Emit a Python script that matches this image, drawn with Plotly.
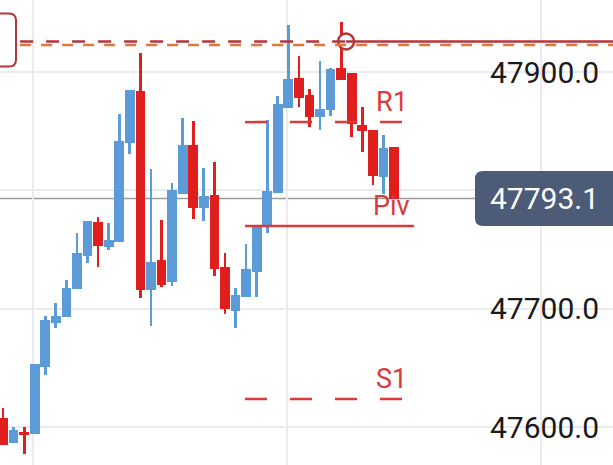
import plotly.graph_objects as go

# ---- data ----
opens = [47607.6, 47586.5, 47595.8, 47594.1, 47650.7, 47687.9, 47693.0, 47716.6, 47744.5, 47773.2,
         47752.1, 47756.3, 47840.0, 47883.9, 47715.8, 47741.1, 47722.5, 47796.9, 47838.3, 47785.1,
         47796.1, 47735.2, 47698.0, 47709.9, 47731.0, 47770.7, 47797.7, 47869.6, 47894.9, 47880.6,
         47862.0, 47867.9, 47903.4, 47899.2, 47855.2, 47851.0, 47811.3, 47836.6]
highs = [47616.0, 47600.0, 47600.0, 47653.2, 47693.8, 47704.8, 47724.2, 47763.9, 47774.1, 47777.5,
         47772.4, 47864.5, 47884.8, 47916.1, 47818.0, 47774.9, 47806.2, 47861.1, 47858.6, 47818.9,
         47823.9, 47747.0, 47717.5, 47754.6, 47769.0, 47859.4, 47879.7, 47939.7, 47913.5, 47885.6,
         47909.3, 47903.4, 47942.3, 47899.2, 47870.4, 47851.0, 47846.8, 47836.6]
lows = [47584.8, 47586.5, 47577.2, 47594.1, 47643.9, 47683.7, 47693.0, 47716.6, 47738.6, 47735.2,
        47749.6, 47756.3, 47830.7, 47709.0, 47685.3, 47718.3, 47719.1, 47796.9, 47775.8, 47774.1,
        47727.6, 47695.5, 47683.7, 47709.9, 47709.9, 47763.9, 47797.7, 47869.6, 47870.4, 47853.5,
        47851.0, 47862.8, 47893.2, 47845.1, 47832.4, 47804.5, 47796.9, 47793.1]
closes = [47584.8, 47597.5, 47593.2, 47653.2, 47690.4, 47693.8, 47717.5, 47747.0, 47774.1, 47752.9,
          47758.0, 47841.7, 47884.8, 47715.8, 47739.4, 47720.0, 47800.3, 47838.3, 47785.1, 47795.2,
          47733.5, 47699.7, 47711.5, 47733.5, 47769.0, 47799.4, 47873.0, 47894.1, 47878.0, 47862.0,
          47868.7, 47902.5, 47893.2, 47856.1, 47850.1, 47812.1, 47835.8, 47793.1]

price_ticks = [47600, 47700, 47800, 47900]
price_tick_labels = ["47600.0", "47700.0", "47800.0", "47900.0"]
current_price = 47793.1
current_label = "47793.1"

pivot_names = ["R1", "Piv", "S1"]
pivot_levels = [47857.7, 47769.9, 47623.7]

order_level = 47925.8      # dark red order line
alert_level = 47922.8      # orange dashed line

# ---- styling ----
BLUE = "#5b9bd7"
RED = "#e01e1e"
PIV_RED = "#d93b3b"
DARK_RED = "#b3363b"
ORANGE = "#e2773c"
GRID = "#ebebef"
FONT = "Roboto"

n = len(closes)
idx = list(range(n))
colors = [BLUE if c >= o else RED for o, c in zip(opens, closes)]
body_base = [min(o, c) for o, c in zip(opens, closes)]
body_h = [max(abs(c - o), 0.9) for o, c in zip(opens, closes)]
wick_base = lows
wick_h = [h - l for h, l in zip(highs, lows)]

fig = go.Figure()
fig.add_trace(go.Bar(x=idx, y=wick_h, base=wick_base, width=0.26,
                     marker=dict(color=colors, line=dict(width=0)), hoverinfo="skip"))
fig.add_trace(go.Bar(x=idx, y=body_h, base=body_base, width=0.92,
                     marker=dict(color=colors, line=dict(width=0)), hoverinfo="skip"))

X0, X1 = -0.284, 57.72
Y0, Y1 = 47567.9, 47960.9

shapes = []
# current price line
shapes.append(dict(type="line", xref="paper", x0=0, x1=1, yref="y", y0=current_price, y1=current_price,
                   line=dict(color="#9c9c9c", width=1.5), layer="between"))
# pivot lines
seg_start = 22.9
for name, lvl in zip(pivot_names, pivot_levels):
    if name == "Piv":
        shapes.append(dict(type="line", xref="x", x0=seg_start, x1=38.9, yref="y", y0=lvl, y1=lvl,
                           line=dict(color=PIV_RED, width=2.5), layer="above"))
    else:
        shapes.append(dict(type="line", xref="x", x0=seg_start, x1=37.8, yref="y", y0=lvl, y1=lvl,
                           line=dict(color=PIV_RED, width=2.5, dash="22px,23px"), layer="above"))
# orange alert line
shapes.append(dict(type="line", xref="x", x0=1.62, x1=X1, yref="y", y0=alert_level, y1=alert_level,
                   line=dict(color=ORANGE, width=2.5, dash="11px,10px"), layer="above"))
# dark red order line: dashed to the marker, solid after
circle_x = 32.46
shapes.append(dict(type="line", xref="x", x0=1.62, x1=circle_x, yref="y", y0=order_level, y1=order_level,
                   line=dict(color=DARK_RED, width=2.5, dash="13px,13px"), layer="above"))
shapes.append(dict(type="line", xref="x", x0=circle_x, x1=X1, yref="y", y0=order_level, y1=order_level,
                   line=dict(color=DARK_RED, width=2.5), layer="above"))
# left rounded box (cut off by edge)
shapes.append(dict(type="path", xref="paper", xsizemode="pixel", xanchor=0,
                   yref="y", ysizemode="pixel", yanchor=order_level,
                   path="M -12,28 L 9,28 Q 16,28 16,21 L 16,-18 Q 16,-25 9,-25 L -12,-25 Z",
                   fillcolor="white", line=dict(color=DARK_RED, width=2), layer="above"))
# price badge
shapes.append(dict(type="path", xref="paper", xsizemode="pixel", xanchor=1,
                   yref="y", ysizemode="pixel", yanchor=current_price,
                   path="M -130,27.5 L 10,27.5 L 10,-27.5 L -130,-27.5 Q -138,-27.5 -138,-19.5 L -138,19.5 Q -138,27.5 -130,27.5 Z",
                   fillcolor="#4b5b78", line=dict(width=0), layer="above"))

fig.add_trace(go.Scatter(x=[circle_x], y=[order_level], mode="markers",
                         marker=dict(symbol="circle", size=16, color="white",
                                     line=dict(color=DARK_RED, width=2.5)),
                         hoverinfo="skip"))

annotations = []
for v, t in zip(price_ticks, price_tick_labels):
    if abs(v - current_price) < 30:
        continue
    annotations.append(dict(xref="paper", x=601 / 613, xanchor="right", yref="y", y=v, yanchor="middle",
                            text=t, showarrow=False, font=dict(family=FONT, size=30, color="#1a1a1a")))
annotations.append(dict(xref="paper", x=601 / 613, xanchor="right", yref="y", y=current_price, yanchor="middle",
                        text=current_label, showarrow=False, font=dict(family=FONT, size=30, color="white")))
for name, lvl in zip(pivot_names, pivot_levels):
    annotations.append(dict(xref="x", x=36.8, xanchor="center", yref="y", y=lvl, yanchor="middle",
                            yshift=20, text=name, showarrow=False,
                            font=dict(family=FONT, size=27, color=PIV_RED)))

fig.update_layout(
    width=613, height=465,
    margin=dict(l=0, r=0, t=0, b=0),
    paper_bgcolor="white", plot_bgcolor="white",
    showlegend=False, barmode="overlay", bargap=0,
    shapes=shapes, annotations=annotations,
    xaxis=dict(range=[X0, X1], showticklabels=False, tickvals=[2.84, 26.87, 50.9],
               showgrid=True, gridcolor=GRID, gridwidth=2, zeroline=False, ticks=""),
    yaxis=dict(range=[Y0, Y1], showticklabels=False, tickvals=price_ticks,
               showgrid=True, gridcolor=GRID, gridwidth=2, zeroline=False, ticks=""),
)

fig.write_html("out.html", config={"displayModeBar": False},
               post_script="document.body.style.margin='0';document.body.style.overflow='hidden';")
